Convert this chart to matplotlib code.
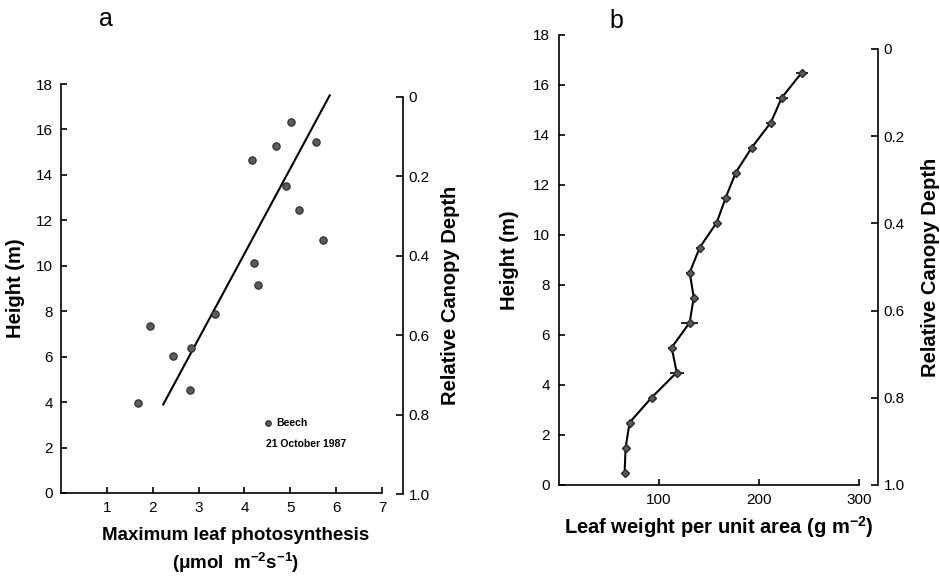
import numpy as np
import matplotlib
matplotlib.use("Agg")
import matplotlib.pyplot as plt

plt.rcParams['font.family'] = ['Liberation Sans', 'DejaVu Sans']
plt.rcParams['mathtext.fontset'] = 'custom'
plt.rcParams['mathtext.bf'] = 'Liberation Sans:bold'
plt.rcParams['mathtext.rm'] = 'Liberation Sans'
plt.rcParams['mathtext.default'] = 'bf'

# panel a: max leaf photosynthesis vs height (beech, 21 Oct 1987)
photo_x = [1.69, 1.94, 2.44, 2.84, 2.82, 3.36, 4.16, 4.21, 4.29, 4.69, 5.01, 4.90, 5.19, 5.55, 5.72]
photo_h = [3.98, 7.36, 6.02, 6.40, 4.55, 7.87, 14.64, 10.12, 9.15, 15.27, 16.34, 13.52, 12.44, 15.46, 11.15]
#fitted line end points
fit_x = [2.23, 5.86]
fit_h = [3.9, 17.5]

# panel b: leaf weight per unit area profile
lw_h = [0.5, 1.5, 2.5, 3.5, 4.5, 5.5, 6.5, 7.5, 8.5, 9.5, 10.5, 11.5, 12.5, 13.5, 14.5, 15.5, 16.5]
lw_x = [66, 67, 71, 93, 118, 113, 131, 135, 131, 141, 158, 167, 177, 193, 212, 223, 243]
lw_err = [3, 3, 3, 3, 7, 4, 8.5, 3, 4, 4, 4, 5, 4, 4, 4.5, 6, 6]

height_ticks = np.arange(0, 19, 2)
depth_ticks = [0, 0.2, 0.4, 0.6, 0.8, 1.0]
depth_labels = ['0', '0.2', '0.4', '0.6', '0.8', '1.0']

W, H = 940, 576
fig = plt.figure(figsize=(9.4, 5.76), dpi=100)

def box(l, t, r, b):
    return [l/W, 1 - b/H, (r - l)/W, (b - t)/H]

def style_main(ax):
    for s in ['top', 'right']:
        ax.spines[s].set_visible(False)
    for s in ['left', 'bottom']:
        ax.spines[s].set_linewidth(1.2)
    ax.tick_params(direction='in', length=4, width=1.2, labelsize=11, pad=6)

def depth_axis(rect, label, labelpad):
    ax = fig.add_axes(rect)
    ax.patch.set_visible(False)
    for s in ['top', 'bottom', 'left']:
        ax.spines[s].set_visible(False)
    ax.spines['right'].set_position(('axes', 0))
    ax.spines['right'].set_linewidth(1.2)
    ax.set_xticks([])
    ax.yaxis.tick_right()
    ax.set_ylim(1.0, 0)
    ax.set_yticks(depth_ticks)
    ax.set_yticklabels(depth_labels)
    ax.tick_params(axis='y', direction='in', length=5, width=1.2, labelsize=11, pad=4)
    ax.yaxis.set_label_position('right')
    ax.set_ylabel(label, fontsize=14.5, fontweight='bold', labelpad=labelpad)
    return ax

# ---- panel a
ax1 = fig.add_axes(box(61, 84, 382, 493))
style_main(ax1)
pts = ax1.scatter(photo_x, photo_h, s=28, color='#5a5a5a', edgecolor='#2a2a2a', linewidth=0.8, zorder=3)
ax1.plot(fit_x, fit_h, color='black', lw=1.5)
ax1.set_xlim(0, 7)
ax1.set_ylim(0, 18)
ax1.set_xticks(range(1, 8))
ax1.set_yticks(height_ticks)
ax1.set_ylabel('Height (m)', fontsize=14.5, fontweight='bold', labelpad=8)
ax1.legend([pts], ['Beech'], loc='center left', bbox_to_anchor=(0.632, 0.171), frameon=False,
           handlelength=0.8, handletextpad=0.4, borderpad=0, borderaxespad=0,
           prop={'size': 7.5, 'weight': 'bold'}, markerscale=0.75)
ax1.text(0.638, 0.12, '21 October 1987', transform=ax1.transAxes, fontsize=7.5, fontweight='bold', va='center')
fig.text(236/W, 1 - 535/H, 'Maximum leaf photosynthesis', ha='center', va='center', fontsize=13.5, fontweight='bold')
fig.text(236/W, 1 - 563/H, '(μmol  m$^{-2}$s$^{-1}$)', ha='center', va='center', fontsize=13.5, fontweight='bold')
fig.text(106/W, 1 - 19/H, 'a', ha='center', va='center', fontsize=18)
depth_axis(box(403, 97, 403.1, 494), 'Relative Canopy Depth', 8)

# ---- panel b
ax2 = fig.add_axes(box(558.5, 35, 859, 485))
style_main(ax2)
ax2.errorbar(lw_x, lw_h, xerr=lw_err, fmt='-D', color='black', lw=1.5, ms=4.5, mfc='#5a5a5a',
             mec='#2a2a2a', ecolor='black', elinewidth=1.2, capsize=0)
ax2.set_xlim(0, 300)
ax2.set_ylim(0, 18)
ax2.set_xticks([100, 200, 300])
ax2.set_yticks(height_ticks)
ax2.set_ylabel('Height (m)', fontsize=14.5, fontweight='bold', labelpad=10)
ax2.set_xlabel('Leaf weight per unit area (g m$^{-2}$)', fontsize=14.5, fontweight='bold', labelpad=5)
ax2.xaxis.set_label_coords(0.535, -0.065)
fig.text(616/W, 1 - 21/H, 'b', ha='center', va='center', fontsize=18)
depth_axis(box(878, 49, 878.1, 485), 'Relative Canopy Depth', 12)

fig.savefig('out.png', dpi=100)
